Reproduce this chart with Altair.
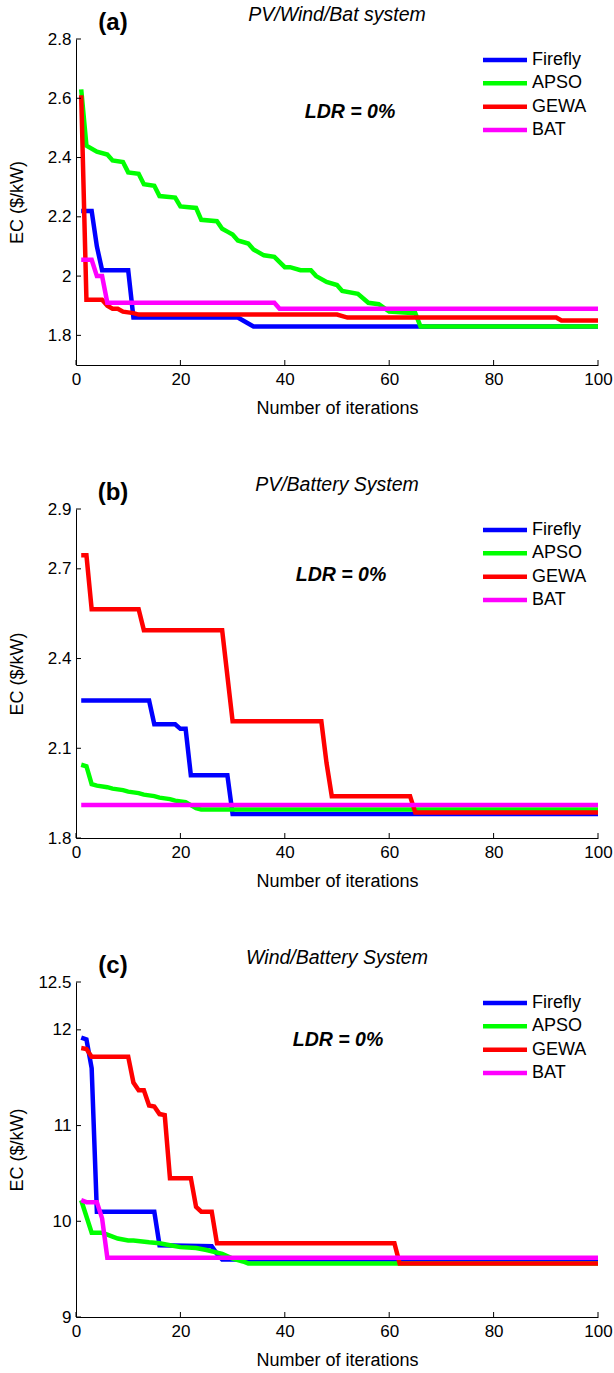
import altair as alt
import pandas as pd

ALGOS = ["Firefly", "APSO", "GEWA", "BAT"]
COLORS = ["#0000ff", "#00ff00", "#ff0000", "#ff00ff"]
FONT = "Liberation Sans"
X_TICKS = [0, 20, 40, 60, 80, 100]
PLOT_W = 522

# (a) PV/Wind/Bat system: breakpoints (iteration, EC) of each convergence curve
a_firefly_it = [1, 3, 4, 5, 10, 11, 31, 32, 33, 34, 100]
a_firefly_ec = [2.22, 2.22, 2.10, 2.02, 2.02, 1.86, 1.86, 1.85, 1.84, 1.83, 1.83]
a_apso_it = [1, 2, 4, 6, 7, 9, 10, 12, 13, 15, 16, 19, 20, 23, 24, 27, 28, 29, 30, 31,
             33, 34, 36, 38, 40, 41, 43, 45, 46, 48, 50, 51, 54, 56, 58, 60, 65, 66, 100]
a_apso_ec = [2.63, 2.44, 2.42, 2.41, 2.39, 2.385, 2.35, 2.345, 2.31, 2.305, 2.27, 2.265, 2.235,
             2.23, 2.19, 2.185, 2.16, 2.15, 2.14, 2.12, 2.11, 2.09, 2.07, 2.065, 2.03, 2.03,
             2.02, 2.02, 2.00, 1.98, 1.97, 1.95, 1.94, 1.91, 1.905, 1.88, 1.875, 1.83, 1.83]
a_gewa_it = [1, 2, 5, 6, 7, 8, 9, 11, 12, 50, 52, 92, 93, 100]
a_gewa_ec = [2.61, 1.92, 1.92, 1.90, 1.89, 1.89, 1.88, 1.875, 1.87, 1.87, 1.86, 1.86, 1.85, 1.85]
a_bat_it = [1, 3, 4, 5, 6, 38, 39, 100]
a_bat_ec = [2.055, 2.055, 2.0, 2.0, 1.91, 1.91, 1.89, 1.89]

# (b) PV/Battery system
b_firefly_it = [1, 14, 15, 19, 20, 21, 22, 29, 30, 100]
b_firefly_ec = [2.26, 2.26, 2.18, 2.18, 2.165, 2.165, 2.01, 2.01, 1.88, 1.88]
b_apso_it = [1, 2, 3, 4, 6, 7, 9, 10, 12, 13, 15, 16, 18, 19, 21, 22, 23, 24, 100]
b_apso_ec = [2.045, 2.04, 1.98, 1.975, 1.97, 1.965, 1.96, 1.955, 1.95, 1.945, 1.94, 1.935,
             1.93, 1.925, 1.92, 1.91, 1.90, 1.895, 1.895]
b_gewa_it = [1, 2, 3, 12, 13, 28, 30, 47, 48, 49, 64, 65, 100]
b_gewa_ec = [2.745, 2.745, 2.565, 2.565, 2.495, 2.495, 2.19, 2.19, 2.05, 1.94, 1.94, 1.885, 1.885]
b_bat_it = [1, 100]
b_bat_ec = [1.91, 1.91]

# (c) Wind/Battery system
c_firefly_it = [1, 2, 3, 4, 15, 16, 26, 27, 28, 100]
c_firefly_ec = [11.92, 11.9, 11.6, 10.1, 10.1, 9.75, 9.74, 9.66, 9.6, 9.6]
c_apso_it = [1, 3, 5, 6, 7, 8, 10, 11, 14, 16, 18, 20, 23, 25, 28, 30, 32, 33, 100]
c_apso_ec = [10.22, 9.88, 9.88, 9.86, 9.84, 9.82, 9.8, 9.8, 9.78, 9.77, 9.75, 9.73, 9.72,
             9.7, 9.66, 9.61, 9.58, 9.56, 9.56]
c_gewa_it = [1, 2, 3, 10, 11, 12, 13, 14, 15, 16, 17, 18, 22, 23, 24, 26, 27, 61, 62, 100]
c_gewa_ec = [11.81, 11.8, 11.72, 11.72, 11.45, 11.37, 11.37, 11.21, 11.2, 11.12, 11.11, 10.45,
             10.45, 10.15, 10.1, 10.1, 9.77, 9.77, 9.56, 9.56]
c_bat_it = [1, 2, 4, 5, 6, 100]
c_bat_ec = [10.22, 10.2, 10.2, 10.03, 9.62, 9.62]


def text_mark(text, x, y, size, weight="normal", style="normal", align="center"):
    return alt.Chart(pd.DataFrame({"t": [text]})).mark_text(
        font=FONT, fontSize=size, fontWeight=weight, fontStyle=style,
        align=align, baseline="middle", color="black",
    ).encode(x=alt.value(x), y=alt.value(y), text="t:N")


def panel(curves, letter, system, ldr_xy, y_domain, y_ticks, height):
    xs = alt.Scale(domain=[0, 100], nice=False)
    ys = alt.Scale(domain=y_domain, nice=False, zero=False)
    x_axis = alt.Axis(values=X_TICKS, title="Number of iterations", titleY=43,
                      titleBaseline="middle", labelPadding=6, labelFlush=False)
    y_axis = alt.Axis(values=y_ticks, format="~g", title="EC ($/kW)", titleX=-59,
                      titleY=height / 2, titleAngle=270, titleAlign="center",
                      titleBaseline="middle", labelPadding=5, labelFlush=False)
    color = alt.Color("algo:N", scale=alt.Scale(domain=ALGOS, range=COLORS), legend=None)

    layers = []
    for algo, (its, ecs) in zip(ALGOS, curves):
        df = pd.DataFrame({"algo": algo, "it": its, "ec": ecs})
        layers.append(alt.Chart(df).mark_line(strokeWidth=4.5).encode(
            x=alt.X("it:Q", scale=xs, axis=x_axis),
            y=alt.Y("ec:Q", scale=ys, axis=y_axis),
            color=color))

    # inward tick marks on both axes
    yt = alt.Chart(pd.DataFrame({"ec": y_ticks})).mark_rule(color="black", strokeWidth=1).encode(
        y=alt.Y("ec:Q", scale=ys, axis=y_axis), x=alt.value(0), x2=alt.value(5))
    xt = alt.Chart(pd.DataFrame({"it": X_TICKS})).mark_rule(color="black", strokeWidth=1).encode(
        x=alt.X("it:Q", scale=xs, axis=x_axis), y=alt.value(height), y2=alt.value(height - 5))

    plot = alt.layer(*layers, yt, xt)

    # legend box in the upper right corner
    leg_df = pd.DataFrame({"algo": ALGOS})
    leg_y = alt.Y("algo:N", scale=alt.Scale(type="point", domain=ALGOS, range=[21, 91], padding=0),
                  axis=None)
    leg_lines = alt.Chart(leg_df).mark_rule(strokeWidth=4.5).encode(
        y=leg_y, x=alt.value(407), x2=alt.value(451), color=color)
    leg_text = alt.Chart(leg_df).mark_text(
        font=FONT, fontSize=18, align="left", baseline="middle", color="black").encode(
        y=leg_y, x=alt.value(456), text="algo:N")
    legend = alt.layer(leg_lines, leg_text)

    notes = alt.layer(
        text_mark(letter, 37, -16, 24, weight="bold"),
        text_mark(system, PLOT_W / 2, -24, 19.5, style="italic"),
        text_mark("LDR = 0%", ldr_xy[0], ldr_xy[1], 19.5, weight="bold", style="italic"),
    )

    return alt.layer(plot, legend, notes).resolve_scale(y="independent").properties(
        width=PLOT_W, height=height)


pa = panel([(a_firefly_it, a_firefly_ec), (a_apso_it, a_apso_ec),
            (a_gewa_it, a_gewa_ec), (a_bat_it, a_bat_ec)],
           "(a)", "PV/Wind/Bat system", (274, 73), [1.7, 2.8],
           [1.8, 2.0, 2.2, 2.4, 2.6, 2.8], 326)
pb = panel([(b_firefly_it, b_firefly_ec), (b_apso_it, b_apso_ec),
            (b_gewa_it, b_gewa_ec), (b_bat_it, b_bat_ec)],
           "(b)", "PV/Battery System", (265, 66), [1.8, 2.9],
           [1.8, 2.1, 2.4, 2.7, 2.9], 329)
pc = panel([(c_firefly_it, c_firefly_ec), (c_apso_it, c_apso_ec),
            (c_gewa_it, c_gewa_ec), (c_bat_it, c_bat_ec)],
           "(c)", "Wind/Battery System", (262, 58), [9, 12.5],
           [9, 10, 11, 12, 12.5], 335)

chart = alt.VConcatChart(vconcat=[pa, pb, pc], spacing=144, bounds="flush").properties(
    padding={"left": 8, "top": 5, "right": 0, "bottom": 4}
).configure_view(stroke=None).configure_axis(
    domainColor="black", domainWidth=1, labelColor="black", titleColor="black",
    labelFont=FONT, titleFont=FONT, labelFontSize=17, titleFontSize=18,
    titleFontWeight="normal", ticks=False, tickSize=0, grid=False,
)

chart.save("out.html", embed_options={"renderer": "svg", "actions": False})
